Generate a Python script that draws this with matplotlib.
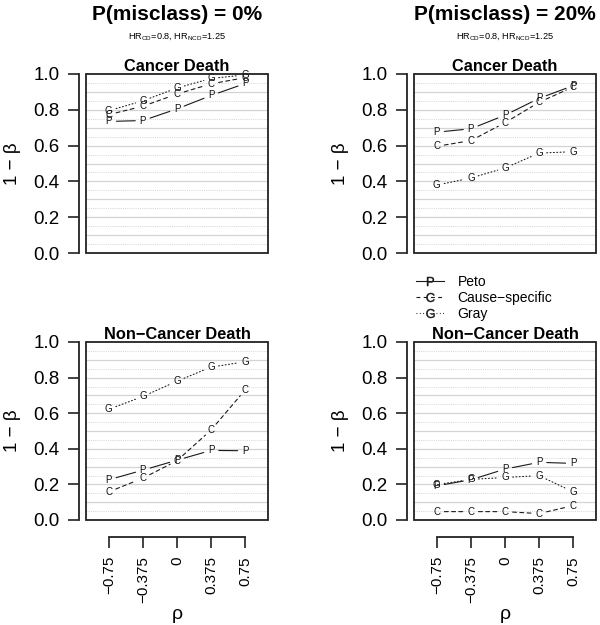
import numpy as np
import matplotlib
matplotlib.use("Agg")
import matplotlib.pyplot as plt
from matplotlib.lines import Line2D
from matplotlib.patches import Rectangle

plt.rcParams['font.family'] = ['Liberation Sans', 'DejaVu Sans']
plt.rcParams['mathtext.default'] = 'regular'

# ---------------- data ----------------
rho = [-0.75, -0.375, 0, 0.375, 0.75]
rho_labels = ["\u22120.75", "\u22120.375", "0", "0.375", "0.75"]
y_ticks = [0.0, 0.2, 0.4, 0.6, 0.8, 1.0]
y_labels = ["0.0", "0.2", "0.4", "0.6", "0.8", "1.0"]

methods = ["P", "C", "G"]
method_names = ["Peto", "Cause\u2212specific", "Gray"]

# P(misclass) = 0%, Cancer Death
cd0_P = [0.735, 0.740, 0.805, 0.880, 0.947]
cd0_C = [0.773, 0.820, 0.888, 0.945, 0.980]
cd0_G = [0.795, 0.850, 0.922, 0.975, 0.995]
# P(misclass) = 20%, Cancer Death
cd20_P = [0.675, 0.694, 0.770, 0.864, 0.935]
cd20_C = [0.596, 0.628, 0.728, 0.842, 0.928]
cd20_G = [0.379, 0.419, 0.475, 0.558, 0.566]
# P(misclass) = 0%, Non-Cancer Death
ncd0_P = [0.226, 0.280, 0.336, 0.391, 0.389]
ncd0_C = [0.158, 0.235, 0.333, 0.506, 0.731]
ncd0_G = [0.622, 0.694, 0.780, 0.859, 0.889]
# P(misclass) = 20%, Non-Cancer Death
ncd20_P = [0.192, 0.226, 0.286, 0.324, 0.318]
ncd20_C = [0.047, 0.047, 0.047, 0.036, 0.081]
ncd20_G = [0.199, 0.228, 0.239, 0.249, 0.158]

col_titles = ["P(misclass) = 0%", "P(misclass) = 20%"]
subtitle = "HR$_{CD}$=0.8, HR$_{NCD}$=1.25"
row_titles = ["Cancer Death", "Non\u2212Cancer Death"]

panel_data = {
    (0, 0): [cd0_P, cd0_C, cd0_G],
    (0, 1): [cd20_P, cd20_C, cd20_G],
    (1, 0): [ncd0_P, ncd0_C, ncd0_G],
    (1, 1): [ncd20_P, ncd20_C, ncd20_G],
}

# ---------------- styles ----------------
W, H = 600, 625
styles = {
    "P": dict(linestyle="-"),
    "C": dict(linestyle=(0, (3.5, 3.0))),
    "G": dict(linestyle=(0, (0.8, 2.2))),
}
LINE_COL = "#1a1a1a"
AX_COL = "#222222"

fig = plt.figure(figsize=(6, 6.25), dpi=100)


def px_axes(left, top, right, bottom):
    return fig.add_axes([left / W, 1 - bottom / H, (right - left) / W, (bottom - top) / H])


boxes = {
    (0, 0): (86, 74, 268, 253),
    (0, 1): (414, 74, 596, 253),
    (1, 0): (86, 342, 268, 520),
    (1, 1): (414, 342, 596, 520),
}

for (r, c), box in boxes.items():
    ax = px_axes(*box)
    ax.set_xlim(-1, 1)
    ax.set_ylim(0, 1)
    # grid
    ax.hlines(np.arange(0.1, 0.95, 0.1), -1, 1, colors="#d4d4d4", linewidth=0.9, zorder=0)
    ax.hlines(np.arange(0.05, 1.0, 0.1), -1, 1, colors="#d4d4d4", linewidth=0.7,
              linestyles=(0, (1, 1.2)), zorder=0)
    # series: letters with gapped connecting lines (R type="b")
    series = panel_data[(r, c)]
    for m, ys in zip(methods, series):
        for i in range(len(rho) - 1):
            ax.annotate("", xy=(rho[i + 1], ys[i + 1]), xytext=(rho[i], ys[i]),
                        arrowprops=dict(arrowstyle="-", shrinkA=5.5, shrinkB=5.5,
                                        color=LINE_COL, lw=0.8, **styles[m]))
        for x, y in zip(rho, ys):
            ax.text(x, y, m, ha="center", va="center", fontsize=7, color="#111111")
    # box
    ax.add_patch(Rectangle((0, 0), 1, 1, transform=ax.transAxes, fill=False,
                           edgecolor=AX_COL, linewidth=1.3, clip_on=False, zorder=5))
    for s in ["top", "right"]:
        ax.spines[s].set_visible(False)
    ax.spines["left"].set_position(("outward", 5))
    ax.spines["left"].set_bounds(0, 1)
    ax.spines["left"].set_color(AX_COL)
    ax.spines["left"].set_linewidth(1.3)
    ax.set_yticks(y_ticks)
    ax.set_yticklabels(y_labels, fontsize=13.5)
    ax.tick_params(axis="y", length=8, width=1.2, pad=6, color=AX_COL)
    ax.set_ylabel("1 \u2212 \u03b2", fontsize=13.5, labelpad=9)
    if r == 1:
        ax.spines["bottom"].set_position(("outward", 12))
        ax.spines["bottom"].set_bounds(-0.75, 0.75)
        ax.spines["bottom"].set_color(AX_COL)
        ax.spines["bottom"].set_linewidth(1.3)
        ax.set_xticks(rho)
        ax.set_xticklabels(rho_labels, rotation=90, fontsize=11)
        ax.tick_params(axis="x", length=8, width=1.2, pad=6, color=AX_COL)
        ax.set_xlabel("\u03c1", fontsize=14, labelpad=2)
    else:
        ax.spines["bottom"].set_visible(False)
        ax.set_xticks([])
    ax.set_title(row_titles[r], fontsize=11.8, fontweight="bold", pad=2.5)

# column titles
for c, cx in enumerate([177, 505]):
    fig.text(cx / W, 1 - 15 / H, col_titles[c], ha="center", va="center",
             fontsize=15, fontweight="bold")
    fig.text(cx / W, 1 - 37 / H, subtitle, ha="center", va="center", fontsize=6.6)

# legend
handles = [Line2D([], [], color=LINE_COL, lw=0.8, marker="$%s$" % m, markersize=6.5,
                  markeredgewidth=0.3, **styles[m]) for m in methods]
fig.legend(handles, method_names, loc="upper left", bbox_to_anchor=(416 / W, 1 - 275 / H),
           frameon=False, fontsize=10, borderpad=0, borderaxespad=0,
           handlelength=2.0, handletextpad=1.0, labelspacing=0.15)

fig.savefig("out.png", dpi=100)
